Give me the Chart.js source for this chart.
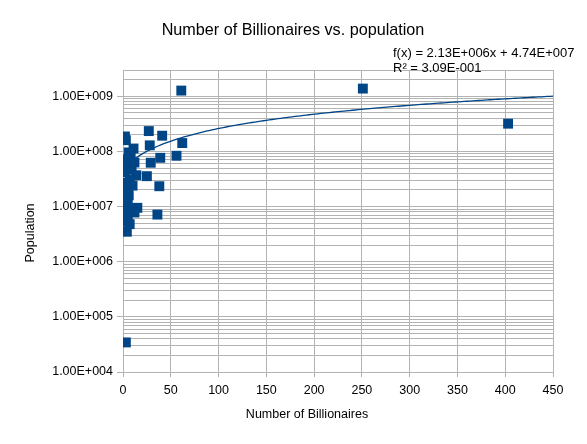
<!DOCTYPE html>
<html>
<head>
<meta charset="utf-8">
<script src="https://cdn.jsdelivr.net/npm/chart.js@4.4.0/dist/chart.umd.min.js"></script>
<style>
  body { margin: 0; background: #fff; }
</style>
</head>
<body>
<canvas id="billionaires-scatter" width="587" height="444"></canvas>
<script>
// values
var billionaires = [403, 251, 61, 62, 56, 41, 39, 36, 38, 29, 28, 27, 25, 3,
  2, 3, 11, 6, 8, 4, 12, 5, 9, 2, 14, 7, 2, 10, 5, 6, 3, 1, 5, 15, 8, 2, 12, 5, 4, 7, 4];
var population = [3.19e8, 1.38e9, 1.27e9, 1.42e8, 8.35e7, 1.93e8, 7.67e7, 7.16e6, 2.34e7, 6.24e7, 1.29e8, 2.34e8, 3.56e7, 3.44e4,
  1.87e8, 1.6e8, 1.13e8, 9.6e7, 8.1e7, 7.2e7, 6.3e7, 5.6e7, 4.7e7, 4.2e7, 3.7e7, 3.1e7, 2.7e7, 2.4e7, 1.9e7, 1.6e7,
  1.3e7, 1.2e7, 1.1e7, 9.5e6, 9.2e6, 8.1e6, 7.8e6, 6.9e6, 5.3e6, 4.8e6, 3.5e6];
var xTicks = [0, 50, 100, 150, 200, 250, 300, 350, 400, 450];
var yDecades = [1e4, 1e5, 1e6, 1e7, 1e8, 1e9];
var yMax = 3e9;

// linear trendline as printed on the chart
var trendSlope = 2.13e6;
var trendIntercept = 4.74e7;
var trendText = 'f(x) = 2.13E+006x + 4.74E+007';
var r2Text = 'R² = 3.09E-001';

var chartTitle = 'Number of Billionaires vs. population';
var xTitle = 'Number of Billionaires';
var yTitle = 'Population';

var blue = '#004586';
var gridGray = '#b3b3b3';
var font = '"Liberation Sans", Arial, sans-serif';

var points = billionaires.map(function (b, i) { return { x: b, y: population[i] }; });

var trend = [];
for (var x = 0; x <= 450; x += 3) {
  trend.push({ x: x, y: trendSlope * x + trendIntercept });
}

// 1, 2, ... 9 in every decade, like the minor grid in the picture
var yTickValues = [];
yDecades.forEach(function (d) {
  for (var m = 1; m <= 9; m++) {
    if (m * d <= yMax) yTickValues.push(m * d);
  }
});

function sciLabel(v) {
  var parts = v.toExponential(2).split('e');
  var exp = parts[1];
  return parts[0] + 'E' + exp[0] + exp.slice(1).padStart(3, '0');
}

function isDecade(v) {
  return yDecades.indexOf(v) !== -1;
}

var textPlugin = {
  id: 'texts',
  afterDraw: function (chart) {
    var ctx = chart.ctx;
    ctx.save();
    ctx.fillStyle = '#000';
    ctx.textBaseline = 'middle';

    ctx.font = '16.2px ' + font;
    ctx.textAlign = 'center';
    ctx.fillText(chartTitle, 293, 31);

    ctx.font = '12.5px ' + font;
    ctx.fillText(xTitle, 307, 415);

    ctx.save();
    ctx.translate(31, 233);
    ctx.rotate(-Math.PI / 2);
    ctx.fillText(yTitle, 0, 0);
    ctx.restore();

    ctx.font = '13px ' + font;
    ctx.textAlign = 'left';
    ctx.fillText(trendText, 393, 53);
    ctx.fillText(r2Text, 393, 68);
    ctx.restore();
  }
};

new Chart(document.getElementById('billionaires-scatter'), {
  type: 'scatter',
  data: {
    datasets: [
      {
        label: 'Population',
        data: points,
        order: 0,
        pointStyle: 'rect',
        pointRadius: 7,
        pointHoverRadius: 7,
        pointBorderWidth: 0,
        backgroundColor: blue,
        borderColor: blue
      },
      {
        label: 'Trend',
        data: trend,
        order: 1,
        showLine: true,
        pointRadius: 0,
        borderColor: blue,
        borderWidth: 1.3,
        fill: false
      }
    ]
  },
  options: {
    responsive: false,
    animation: false,
    layout: { padding: { top: 70, right: 34, bottom: 0, left: 0 } },
    plugins: {
      legend: { display: false },
      title: { display: false },
      tooltip: { enabled: false }
    },
    scales: {
      x: {
        type: 'linear',
        min: 0,
        max: 450,
        afterBuildTicks: function (scale) {
          scale.ticks = xTicks.map(function (v) { return { value: v }; });
        },
        afterFit: function (scale) { scale.height = 72; },
        ticks: {
          autoSkip: false,
          maxRotation: 0,
          padding: 6,
          color: '#000',
          font: { family: font, size: 12.5 }
        },
        grid: { color: gridGray, tickColor: gridGray, tickLength: 5, lineWidth: 1 },
        border: { color: gridGray }
      },
      y: {
        type: 'logarithmic',
        min: 1e4,
        max: yMax,
        afterBuildTicks: function (scale) {
          scale.ticks = yTickValues.map(function (v) { return { value: v, major: isDecade(v) }; });
        },
        afterFit: function (scale) { scale.width = 123; },
        ticks: {
          autoSkip: false,
          padding: 4,
          color: '#000',
          font: { family: font, size: 12.5 },
          callback: function (value) { return isDecade(value) ? sciLabel(value) : ''; }
        },
        grid: {
          color: gridGray,
          lineWidth: 1,
          tickLength: 6,
          tickColor: function (ctx) {
            return ctx.tick && isDecade(ctx.tick.value) ? gridGray : 'rgba(0,0,0,0)';
          }
        },
        border: { color: gridGray }
      }
    }
  },
  plugins: [textPlugin]
});
</script>
</body>
</html>
